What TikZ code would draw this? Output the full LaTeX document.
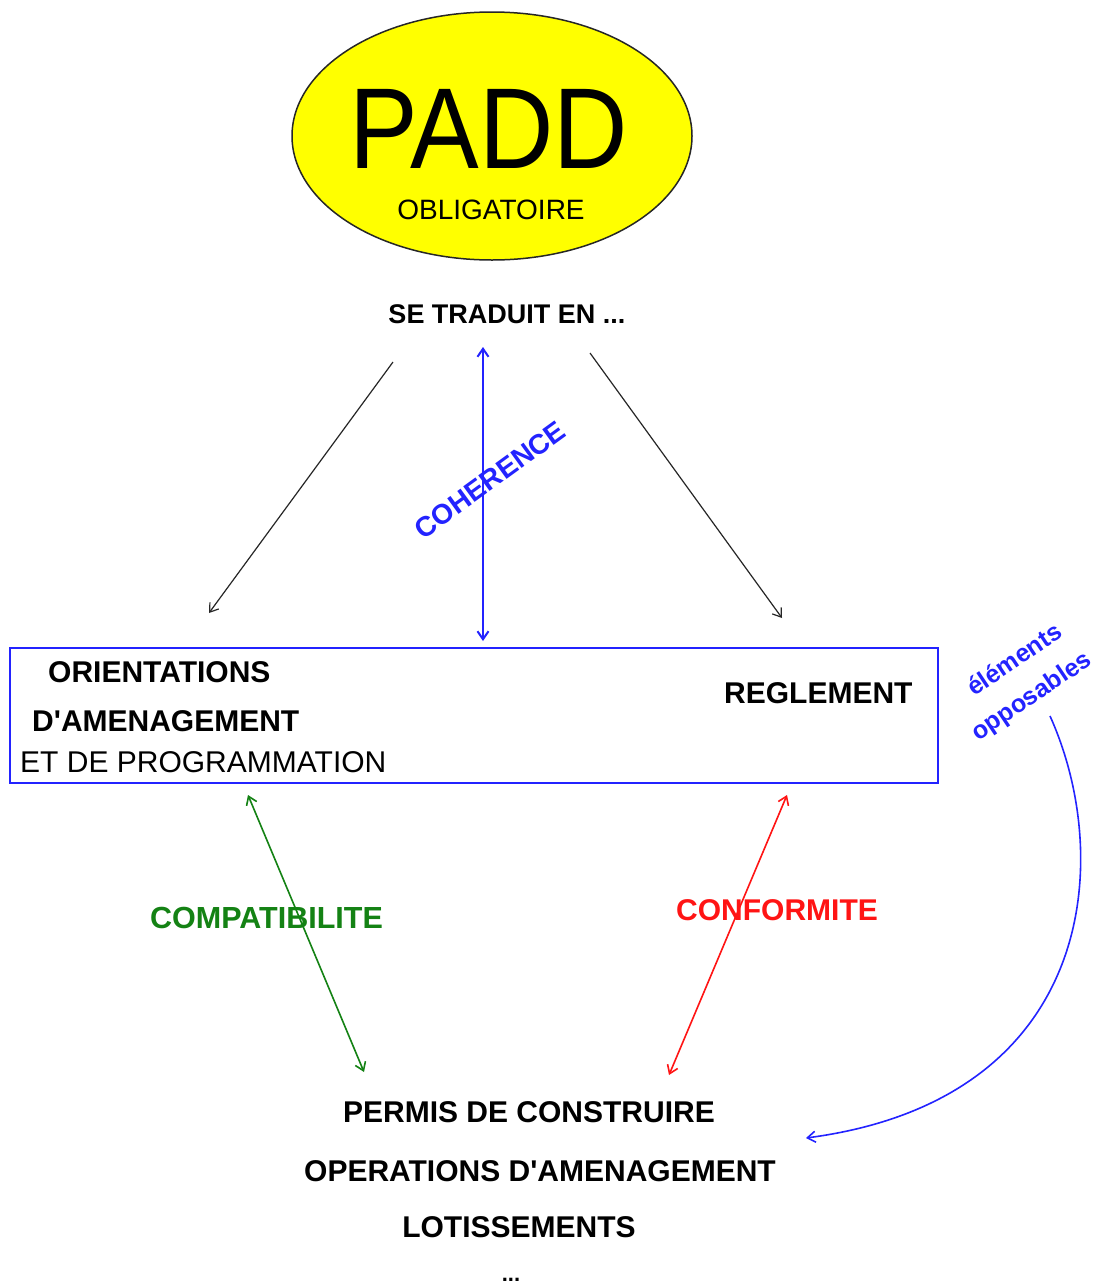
\documentclass[tikz,border=0pt]{standalone}
\usepackage{fontspec}
\usepackage{graphicx}
\setmainfont{Liberation Sans}[Ligatures=TeXOff]
\usetikzlibrary{arrows.meta,shapes.geometric}
\definecolor{myblue}{RGB}{35,35,255}
\definecolor{mygreen}{RGB}{20,130,20}
\definecolor{myred}{RGB}{255,20,20}
\definecolor{myyellow}{RGB}{255,255,0}
\begin{document}
\begin{tikzpicture}[x=1pt,y=-1pt,
  txt/.style={inner sep=0pt, anchor=base, font=\fontsize{30}{36}\selectfont\bfseries},
  txtw/.style={inner sep=0pt, anchor=base west, font=\fontsize{30}{36}\selectfont\bfseries},
  barb/.style={-{Straight Barb[length=8pt,width=11pt]}},
  dbarb/.style={{Straight Barb[length=8pt,width=11pt]}-{Straight Barb[length=8pt,width=11pt]}},
  rotlab/.style={inner sep=0pt, rotate=34, text=myblue, font=\fontsize{25}{30}\selectfont\bfseries},
]
\useasboundingbox (0,0) rectangle (1103,1286);
\fill[white] (0,0) rectangle (1103,1286);

% PADD ellipse
\node[ellipse, draw=black!85, line width=1.5pt, fill=myyellow,
      minimum width=400pt, minimum height=248pt, inner sep=0pt] (padd) at (492,136) {};
\node[inner sep=0pt, anchor=base] (paddtxt) at (488.5,168)
  {\scalebox{0.895}[1]{\fontsize{115}{120}\selectfont PADD}};
\node[inner sep=0pt, anchor=base, font=\fontsize{28}{32}\selectfont] (oblig) at (491,219) {OBLIGATOIRE};

% SE TRADUIT EN
\node[txt, font=\fontsize{27}{32}\selectfont\bfseries] (traduit) at (507,323) {SE TRADUIT EN ...};

% Main box
\node[draw=myblue, line width=2.5pt, minimum width=928pt, minimum height=135pt, inner sep=0pt] (box) at (474,715.5) {};
\node[txtw] (orient) at (48,682) {ORIENTATIONS};
\node[txtw] (amen) at (32,731) {D'AMENAGEMENT};
\node[txtw, font=\fontsize{30}{36}\selectfont] (prog) at (20,772) {ET DE PROGRAMMATION};
\node[txtw] (regl) at (724,703) {REGLEMENT};

% Bottom list
\node[txt] (permis) at (529,1122) {PERMIS DE CONSTRUIRE};
\node[txt] (operations) at (540,1181) {OPERATIONS D'AMENAGEMENT};
\node[txt] (lotis) at (519,1237) {LOTISSEMENTS};
\node[txt, font=\fontsize{22}{26}\selectfont\bfseries] (dots) at (511,1281) {...};

% connector endpoints
\coordinate (l1) at (393,362);  \coordinate (l2) at (209,613);
\coordinate (c1) at (483,347);  \coordinate (c2) at (483,641);
\coordinate (r1) at (590,353);  \coordinate (r2) at (782,618);
\coordinate (g1) at (248,795);  \coordinate (g2) at (364,1072);
\coordinate (rd1) at (787,795); \coordinate (rd2) at (669,1075);
\coordinate (o1) at (1050,716); \coordinate (o2) at (806,1138);

% connectors
\draw[barb, black!85, line width=1.2pt] (l1) -- (l2);
\draw[barb, black!85, line width=1.2pt] (r1) -- (r2);
\draw[dbarb, myblue, line width=2pt] (c1) -- (c2);
\draw[dbarb, mygreen, line width=1.6pt] (g1) -- (g2);
\draw[dbarb, myred, line width=1.6pt] (rd1) -- (rd2);
\draw[barb, myblue, line width=1.6pt] (o1) .. controls (1115,860) and (1095,1100) .. (o2);

% labels
\node[inner sep=0pt, rotate=36, text=myblue, font=\fontsize{28}{32}\selectfont\bfseries] (coh) at (490,480) {COHERENCE};
\node[txtw, text=mygreen, font=\fontsize{30.5}{36}\selectfont\bfseries] (compat) at (150,928) {COMPATIBILITE};
\node[txtw, text=myred] (conf) at (676,920) {CONFORMITE};
\node[rotlab] (elem) at (1014,659) {éléments};
\node[rotlab] (oppo) at (1032,697) {opposables};
\end{tikzpicture}
\end{document}
